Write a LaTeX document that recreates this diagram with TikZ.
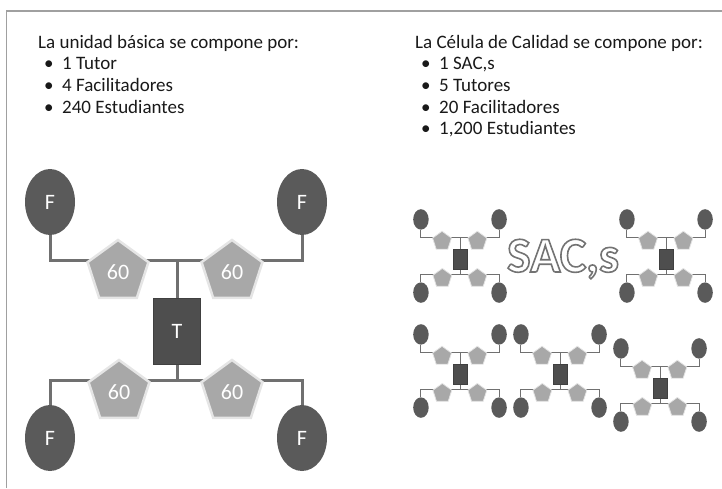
\documentclass[tikz,border=0pt]{standalone}
\usepackage{fontspec}
\setmainfont{Carlito}
\usetikzlibrary{shapes.geometric,backgrounds}

\definecolor{grisF}{HTML}{5A5A5A}
\definecolor{grisP}{HTML}{A8A8A8}
\definecolor{grisT}{HTML}{4E4E4E}
\definecolor{grisL}{HTML}{707070}
\definecolor{grisM}{HTML}{A0A0A0}

\tikzset{
  faci/.style={ellipse,fill=grisF,minimum width=50,minimum height=66,inner sep=0,
    text=white,font=\fontsize{22}{22}\selectfont},
  estu/.style={regular polygon,regular polygon sides=5,minimum size=64,inner sep=0,
    fill=grisP,draw=white!90!black,text=white,font=\fontsize{22}{22}\selectfont},
  tutor/.style={rectangle,fill=grisT,draw=black!75,minimum width=47,minimum height=66,
    inner sep=0,text=white,font=\fontsize{22}{22}\selectfont},
  linea/.style={draw=grisL},
  lista/.style={anchor=north west,align=left,inner sep=0,text=black!90,
    font=\fontsize{19}{21.6}\selectfont},
}

% una unidad: nombre, centro, escala, texto F, texto pentagono, texto T
\newcommand{\unidad}[6]{%
\begin{scope}[shift={#2},scale=#3,transform shape]
  \node[faci] (#1-F1) at (-126,-118) {#4};
  \node[faci] (#1-F2) at (126,-118) {#4};
  \node[faci] (#1-F3) at (-126,118) {#4};
  \node[faci] (#1-F4) at (126,118) {#4};
  \node[estu,line width=#3*2.5pt] (#1-P1) at (-58,-48) {#5};
  \node[estu,line width=#3*2.5pt] (#1-P2) at (56,-48) {#5};
  \node[estu,line width=#3*2.5pt] (#1-P3) at (-57,72) {#5};
  \node[estu,line width=#3*2.5pt] (#1-P4) at (56,72) {#5};
  \node[tutor,line width=#3*1pt] (#1-T) at (1,11) {#6};
  \coordinate (#1-a) at (1,-60);
  \coordinate (#1-b) at (1,60);
  \begin{scope}[on background layer]
    \draw[linea,line width=#3*3pt] (#1-F1) |- (#1-a) -| (#1-F2);
    \draw[linea,line width=#3*3pt] (#1-a) -- (#1-T);
    \draw[linea,line width=#3*3pt] (#1-F3) |- (#1-b) -| (#1-F4);
    \draw[linea,line width=#3*3pt] (#1-b) -- (#1-T);
  \end{scope}
\end{scope}}

\newcommand{\punto}{\makebox[24pt][l]{\hspace{6pt}\textbullet}}

\begin{document}
\begin{tikzpicture}[x=1pt,y=-1pt]
\useasboundingbox (0,0) rectangle (722,488);
\draw[grisM,line width=1.5pt] (6.5,488) -- (6.5,11) -- (722,11);

\node[lista] (basica) at (38,35) {La unidad básica se compone por:\\
  \punto 1 Tutor\\ \punto 4 Facilitadores\\ \punto 240 Estudiantes};
\node[lista] (celula) at (415,35) {La Célula de Calidad se compone por:\\
  \punto 1 SAC,s\\ \punto 5 Tutores\\ \punto 20 Facilitadores\\ \punto 1,200 Estudiantes};

\unidad{g}{(176,320)}{1}{F}{60}{T}
\unidad{a}{(460,256)}{0.31}{}{}{}
\unidad{b}{(666,256)}{0.31}{}{}{}
\unidad{c}{(460,371)}{0.31}{}{}{}
\unidad{d}{(560,371)}{0.31}{}{}{}
\unidad{e}{(660,385)}{0.31}{}{}{}

\node[text=white,font=\fontsize{50}{50}\selectfont\bfseries] (sacs) at (563,259)
  {\special{pdf:literal direct 2 Tr 1.6 w 0.45 0.45 0.45 RG}SAC,s\special{pdf:literal direct 0 Tr 0 G}};
\end{tikzpicture}
\end{document}
